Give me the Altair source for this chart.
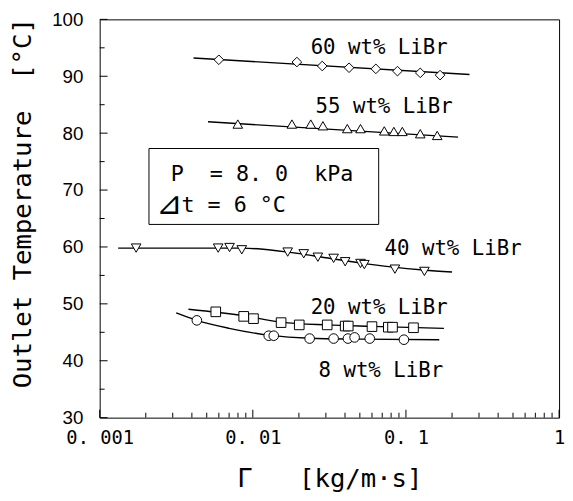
import altair as alt
import pandas as pd

# ---- data ----
series = ["60", "55", "40", "20", "8"]
shapes = ["diamond", "triangle-up", "triangle-down", "square", "circle"]

g60 = [0.0060, 0.0194, 0.0284, 0.0425, 0.0636, 0.088, 0.124, 0.167]
t60 = [92.9, 92.5, 91.8, 91.5, 91.3, 90.9, 90.6, 90.2]
g55 = [0.00798, 0.0180, 0.0239, 0.0287, 0.0414, 0.0505, 0.0722, 0.0834, 0.0947, 0.124, 0.160]
t55 = [81.6, 81.6, 81.6, 81.3, 80.8, 80.8, 80.4, 80.3, 80.3, 79.9, 79.6]
g40 = [0.00173, 0.00594, 0.00705, 0.00847, 0.0169, 0.0215, 0.0266, 0.0337, 0.0401, 0.0505, 0.0535, 0.0847, 0.132]
t40 = [59.8, 59.8, 59.9, 59.5, 59.1, 58.8, 58.2, 58.0, 57.4, 57.1, 56.9, 56.1, 55.7]
g20 = [0.00573, 0.00872, 0.0101, 0.0153, 0.0201, 0.0306, 0.0401, 0.0420, 0.060, 0.0767, 0.0817, 0.112]
t20 = [48.6, 47.8, 47.4, 46.7, 46.3, 46.3, 46.1, 46.1, 46.0, 45.9, 45.9, 45.8]
g8 = [0.00431, 0.0127, 0.0137, 0.0235, 0.0337, 0.0418, 0.0462, 0.058, 0.097]
t8 = [47.1, 44.4, 44.4, 43.9, 43.9, 43.9, 44.1, 43.9, 43.7]

# fitted curves
c60_g = [0.0041, 0.26]
c60_t = [93.2, 90.3]
c55_g = [0.0051, 0.219]
c55_t = [82.0, 79.3]
c40_g = [0.00132, 0.0085, 0.018, 0.03, 0.05, 0.08, 0.13, 0.2]
c40_t = [59.8, 59.8, 59.0, 58.1, 57.2, 56.5, 55.95, 55.6]
c20_g = [0.0038, 0.0087, 0.0153, 0.0306, 0.06, 0.177]
c20_t = [49.05, 47.9, 46.8, 46.3, 46.05, 45.7]
c8_g = [0.00316, 0.0043, 0.007, 0.0127, 0.0235, 0.05, 0.165]
c8_t = [48.4, 47.1, 45.7, 44.5, 43.95, 43.8, 43.7]

NB = "\u00a0"
labels = ["60 wt% LiBr", "55 wt% LiBr", "40 wt% LiBr", "20 wt% LiBr", "8 wt% LiBr"]
x_tick_vals = [0.001, 0.01, 0.1, 1]
x_tick_text = ["0. 001", "0. 01", "0. 1", "1"]
y_tick_vals = [30, 40, 50, 60, 70, 80, 90, 100]
y_minor_vals = [35, 45, 55, 65, 75, 85, 95]
x_minor_mult = [2, 3, 4, 5, 6, 7, 8, 9]
x_minor_vals = [m * d for d in [0.001, 0.01, 0.1] for m in x_minor_mult]
box_line1 = "P" + NB * 2 + "=" + NB + "8." + NB + "0" + NB * 2 + "kPa"
box_tri = "⊿"
box_line2 = "t" + NB + "=" + NB + "6" + NB + "°C"
x_title = "Γ" + NB * 3 + "[kg/m·s]"
y_title = "Outlet" + NB + "Temperature" + NB * 2 + "[°C]"

pts = pd.DataFrame(
    [(s, g, t) for s, gs, ts in zip(series, [g60, g55, g40, g20, g8], [t60, t55, t40, t20, t8])
     for g, t in zip(gs, ts)], columns=["s", "g", "t"])
crv = pd.DataFrame(
    [(s, g, t) for s, gs, ts in zip(series, [c60_g, c55_g, c40_g, c20_g, c8_g],
                                     [c60_t, c55_t, c40_t, c20_t, c8_t])
     for g, t in zip(gs, ts)], columns=["s", "g", "t"])

W, H = 466, 404
xs = alt.Scale(type="log", domain=[0.001, 1], nice=False)
ys = alt.Scale(domain=[30, 100], nice=False, zero=False)

lab_expr = " : ".join(f"datum.value == {v} ? '{t}'" for v, t in zip(x_tick_vals, x_tick_text)) + " : ''"

xaxis = alt.Axis(values=x_tick_vals, labelExpr=lab_expr, grid=False, ticks=False, domain=False,
                 labelFont="DejaVu Sans Mono", labelFontSize=19, labelColor="black", labelPadding=11,
                 labelFlush=False, labelOverlap=False,
                 title=x_title, titleFont="DejaVu Sans Mono", titleFontSize=26,
                 titleFontWeight="normal", titleColor="black", titleY=62, titleBaseline="middle")
yaxis = alt.Axis(values=y_tick_vals, grid=False, ticks=False, domain=False,
                 labelFont="Liberation Sans", labelFontSize=19, labelColor="black", labelPadding=17,
                 labelFlush=False, labelOverlap=False,
                 title=y_title, titleFont="DejaVu Sans Mono", titleFontSize=26,
                 titleFontWeight="normal", titleColor="black", titleX=-78, titleY=186,
                 titleAngle=270, titleBaseline="middle", titleAlign="center")

lines = alt.Chart(crv).mark_line(color="black", strokeWidth=1.4, interpolate="monotone").encode(
    x=alt.X("g:Q", scale=xs, axis=xaxis),
    y=alt.Y("t:Q", scale=ys, axis=yaxis),
    detail="s:N", order="g:Q")

points = alt.Chart(pts).mark_point(filled=True, fill="white", stroke="black", strokeWidth=1,
                                   size=95, opacity=1).encode(
    x=alt.X("g:Q", scale=xs),
    y=alt.Y("t:Q", scale=ys),
    shape=alt.Shape("s:N", scale=alt.Scale(domain=series, range=shapes), legend=None))

xmaj = alt.Chart(pd.DataFrame({"v": x_tick_vals})).mark_rule(color="black", strokeWidth=1).encode(
    x=alt.X("v:Q", scale=xs), y=alt.value(H), y2=alt.value(H - 8))
xmin = alt.Chart(pd.DataFrame({"v": x_minor_vals})).mark_rule(color="black", strokeWidth=1).encode(
    x=alt.X("v:Q", scale=xs), y=alt.value(H), y2=alt.value(H - 5))
ymaj = alt.Chart(pd.DataFrame({"v": y_tick_vals})).mark_rule(color="black", strokeWidth=1).encode(
    y=alt.Y("v:Q", scale=ys), x=alt.value(0), x2=alt.value(8))
ymin = alt.Chart(pd.DataFrame({"v": y_minor_vals})).mark_rule(color="black", strokeWidth=1).encode(
    y=alt.Y("v:Q", scale=ys), x=alt.value(0), x2=alt.value(5))

box = alt.Chart(pd.DataFrame({"a": [0]})).mark_rect(fill="white", stroke="black", strokeWidth=1).encode(
    x=alt.value(50), x2=alt.value(283), y=alt.value(131), y2=alt.value(208))


def txt_layer(txt, px, py, size, font="DejaVu Sans Mono"):
    return alt.Chart(pd.DataFrame({"a": [0]})).mark_text(
        text=txt, font=font, fontSize=size, align="left", baseline="middle",
        color="black").encode(x=alt.value(px), y=alt.value(py))


label_pos = [(214, 29), (219, 89), (289, 233), (214, 293), (222, 357)]
texts = [txt_layer(t, px, py, 21) for t, (px, py) in zip(labels, label_pos)]
texts.append(txt_layer(box_line1, 72, 157, 22))
texts.append(txt_layer(box_tri, 57, 187, 32, font="DejaVu Sans"))
texts.append(txt_layer(box_line2, 83, 188, 22))

chart = alt.layer(lines, xmaj, xmin, ymaj, ymin, box, points, *texts).properties(
    width=W, height=H,
    autosize=alt.AutoSizeParams(type="none"),
    padding={"left": 93, "top": 8, "right": 6, "bottom": 80},
    background="white",
).configure_view(stroke="black", strokeWidth=1)

chart.save("out.html", embed_options={"renderer": "svg", "actions": False})
